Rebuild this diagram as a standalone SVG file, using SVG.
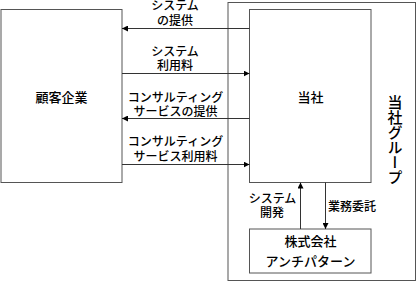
<svg xmlns="http://www.w3.org/2000/svg" width="417" height="282" viewBox="0 0 417 282">
<style>
.box{fill:#fff;stroke:#555;stroke-width:1}
.grp{fill:none;stroke:#555;stroke-width:1}
.ln{stroke:#333;stroke-width:1;fill:none}
text{font-family:"Noto Sans CJK JP","Noto Sans",sans-serif;font-weight:500;fill:#000;text-anchor:middle}
.s{font-size:12px}
.m{font-size:13px}
.g{font-size:15px;writing-mode:vertical-rl}
</style>
<defs>
<marker id="ah" viewBox="0 0 6 6" refX="6" refY="3" markerWidth="6" markerHeight="6" markerUnits="userSpaceOnUse" orient="auto">
<path d="M0,0 L6,3 L0,6 Z" fill="#000"/>
</marker>
</defs>
<g id="group-touhsha">
<rect class="grp" x="228" y="2.5" width="187.5" height="278"/>
<text class="g" x="395" y="95" style="text-anchor:start">当社グループ</text>
</g>
<g id="kokyaku">
<rect class="box" x="1" y="9.5" width="121" height="173"/>
<text class="m" x="61.5" y="102">顧客企業</text>
</g>
<g id="tousha">
<rect class="box" x="249.5" y="9.5" width="121.5" height="173"/>
<text class="m" x="310.5" y="102">当社</text>
</g>
<g id="antipattern">
<rect class="box" x="249.5" y="229" width="121.5" height="44"/>
<text class="m" x="310.5" y="245.5">株式会社</text>
<text class="m" x="310.5" y="265.5">アンチパターン</text>
</g>
<g id="connectors">
<line class="ln" x1="249.5" y1="28.5" x2="122" y2="28.5" marker-end="url(#ah)"/>
<line class="ln" x1="122" y1="73.5" x2="249.5" y2="73.5" marker-end="url(#ah)"/>
<line class="ln" x1="249.5" y1="118.5" x2="122" y2="118.5" marker-end="url(#ah)"/>
<line class="ln" x1="122" y1="164.5" x2="249.5" y2="164.5" marker-end="url(#ah)"/>
<line class="ln" x1="300.5" y1="229" x2="300.5" y2="182.5" marker-end="url(#ah)"/>
<line class="ln" x1="325.5" y1="182.5" x2="325.5" y2="229" marker-end="url(#ah)"/>
<text class="s" x="175" y="10">システム</text>
<text class="s" x="175" y="24.5">の提供</text>
<text class="s" x="175" y="55.5">システム</text>
<text class="s" x="175" y="70">利用料</text>
<text class="s" x="175.5" y="101.5">コンサルティング</text>
<text class="s" x="175.5" y="116">サービスの提供</text>
<text class="s" x="175.5" y="145.5">コンサルティング</text>
<text class="s" x="175.5" y="160.5">サービス利用料</text>
<text class="s" x="272.5" y="202.5">システム</text>
<text class="s" x="272" y="216.5">開発</text>
<text class="s" x="352" y="210.5">業務委託</text>
</g>
</svg>
